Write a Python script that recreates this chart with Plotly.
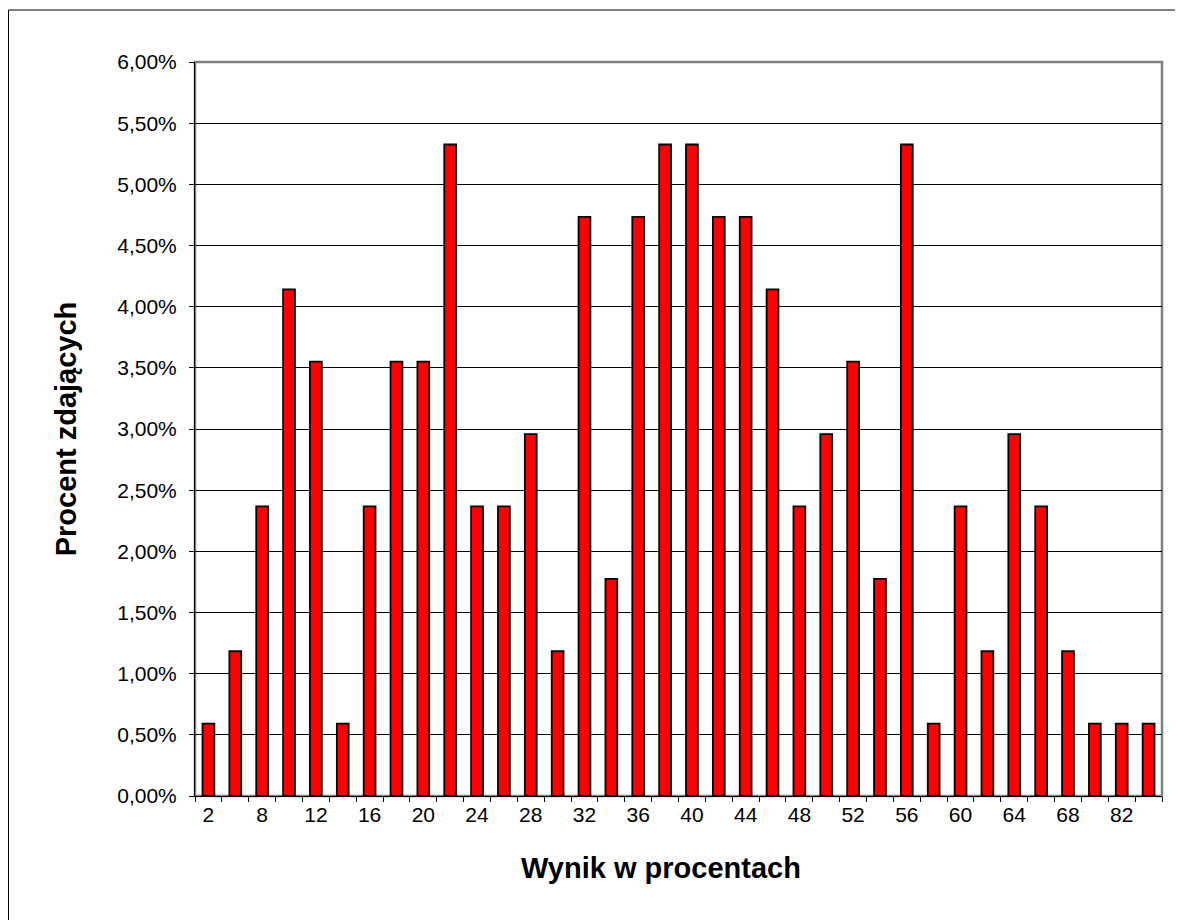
import plotly.graph_objects as go

categories = ["2", "6", "8", "10", "12", "14", "16", "18", "20", "22", "24", "26",
              "28", "30", "32", "34", "36", "38", "40", "42", "44", "46", "48", "50",
              "52", "54", "56", "58", "60", "62", "64", "66", "68", "70", "82", "84"]
counts = [1, 2, 4, 7, 6, 1, 4, 6, 6, 9, 4, 4, 5, 2, 8, 3, 8, 9, 9, 8, 8, 7, 4, 5,
          6, 3, 9, 1, 4, 2, 5, 4, 2, 1, 1, 1]
total = 169
shares = [c / total for c in counts]
tick_labels = [c if i % 2 == 0 else "" for i, c in enumerate(categories)]

# page body has an 8px margin; figure coordinates are shifted accordingly
W, H = 1183, 920
L, R, T, B = 187, 29, 54, 132
pw, ph = W - L - R, H - T - B

fig = go.Figure()
fig.add_trace(go.Bar(
    x=categories, y=shares,
    marker=dict(color="#FF0000", line=dict(color="#000000", width=1.8)),
    width=0.44,
))

font = "Liberation Sans, Arial, sans-serif"
fig.update_layout(
    width=W, height=H,
    margin=dict(l=L, r=R, t=T, b=B),
    paper_bgcolor="white", plot_bgcolor="white",
    separators=",.",
    showlegend=False,
    font=dict(family=font, size=21, color="black"),
    xaxis=dict(
        type="category",
        tickmode="array", tickvals=categories, ticktext=tick_labels,
        tickson="boundaries", ticks="outside", ticklen=5, tickcolor="black",
        tickangle=0,
        showline=True, linecolor="black", linewidth=1,
        showgrid=False,
        range=[-0.5, len(categories) - 0.5],
        tickfont=dict(size=21),
    ),
    yaxis=dict(
        range=[0, 0.06], tickmode="linear", tick0=0, dtick=0.005,
        tickformat=".2%",
        ticks="outside", ticklen=5, tickcolor="black",
        ticklabelstandoff=8,
        showline=True, linecolor="black", linewidth=1,
        showgrid=True, gridcolor="black", gridwidth=1,
        zeroline=False,
        tickfont=dict(size=21),
        title=dict(text="<b>Procent zdających</b>", font=dict(size=29), standoff=32),
    ),
    annotations=[
        dict(text="<b>Wynik w procentach</b>", xref="paper", yref="paper",
             x=(661 - 195) / pw, y=0, xanchor="center", yanchor="top",
             yshift=-54, showarrow=False, font=dict(size=29)),
    ],
    shapes=[
        dict(type="rect", xref="paper", yref="paper", x0=0, y0=0, x1=1, y1=1,
             line=dict(color="#808080", width=2.5), layer="below"),
        dict(type="rect", xref="paper", yref="paper",
             x0=(0.5 - L) / pw, x1=(W + 20 - L) / pw,
             y0=1 - (H + 20 - T) / ph, y1=1 - (2 - T) / ph,
             line=dict(color="black", width=1)),
    ],
)

fig.write_html("out.html")
